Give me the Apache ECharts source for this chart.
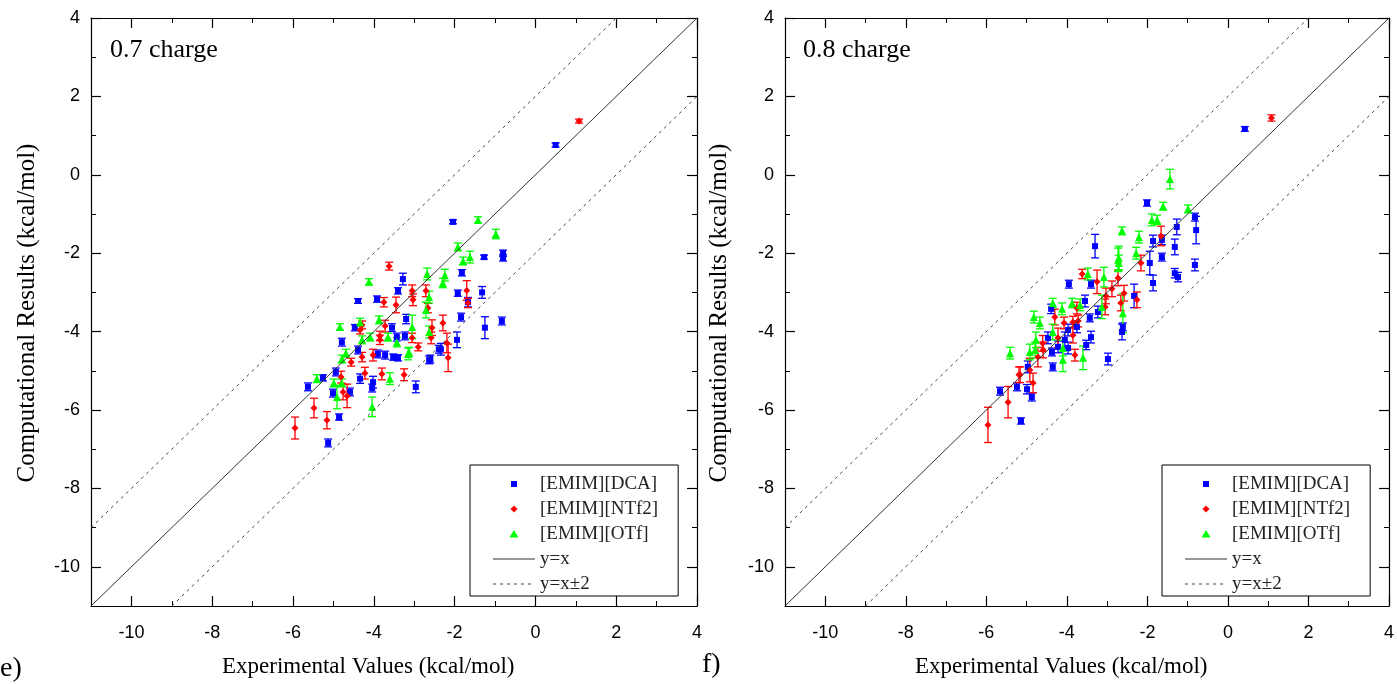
<!DOCTYPE html>
<html>
<head>
<meta charset="utf-8">
<script src="https://cdn.jsdelivr.net/npm/echarts@6/dist/echarts.min.js"></script>
<style>
  html, body { margin: 0; padding: 0; background: #fff; }
  #chart { width: 1397px; height: 684px; }
</style>
</head>
<body>
<div id="chart"></div>
<script>
// each point: [experimental, computed, error]
var dca07 = [
  [0.5, 0.76, 0.05], [-2.04, -1.2, 0.05], [-0.8, -2.0, 0.08], [-0.8, -2.12, 0.08],
  [-1.27, -2.1, 0.05], [-1.82, -2.5, 0.08], [-1.92, -3.02, 0.08], [-1.32, -3.0, 0.15],
  [-1.67, -3.25, 0.12], [-1.84, -3.63, 0.1], [-1.25, -3.9, 0.28], [-0.83, -3.73, 0.1],
  [-1.94, -4.21, 0.2], [-2.34, -4.45, 0.15], [-2.6, -4.7, 0.1], [-3.28, -2.66, 0.15],
  [-3.4, -2.96, 0.08], [-4.39, -3.22, 0.06], [-3.92, -3.17, 0.08], [-3.2, -3.68, 0.12],
  [-4.47, -3.9, 0.08], [-3.55, -3.9, 0.1], [-4.79, -4.27, 0.1], [-4.39, -4.47, 0.1],
  [-3.43, -4.14, 0.1], [-3.23, -4.11, 0.1], [-2.39, -4.45, 0.1], [-3.9, -4.57, 0.1],
  [-3.72, -4.6, 0.1], [-3.52, -4.65, 0.08], [-3.4, -4.67, 0.08], [-4.94, -5.03, 0.1],
  [-4.34, -5.2, 0.12], [-4.02, -5.29, 0.15], [-2.63, -4.72, 0.1], [-4.04, -5.44, 0.1],
  [-2.96, -5.41, 0.15], [-5.01, -5.57, 0.1], [-4.59, -5.54, 0.1], [-4.86, -6.18, 0.08],
  [-5.63, -5.41, 0.1], [-5.26, -5.18, 0.08], [-5.13, -6.84, 0.1]
];
var ntf07 = [
  [1.08, 1.37, 0.05], [-3.62, -2.33, 0.1], [-3.75, -3.25, 0.12], [-3.45, -3.32, 0.2],
  [-3.05, -2.96, 0.15], [-3.03, -3.19, 0.15], [-2.71, -2.96, 0.15], [-2.66, -3.4, 0.12],
  [-4.29, -3.83, 0.1], [-3.72, -3.86, 0.15], [-2.56, -3.9, 0.2], [-1.7, -2.95, 0.25],
  [-1.67, -3.27, 0.12], [-2.29, -3.78, 0.2], [-2.19, -4.29, 0.25], [-2.16, -4.67, 0.35],
  [-4.34, -3.96, 0.1], [-3.85, -4.11, 0.12], [-3.85, -4.21, 0.12], [-3.05, -4.16, 0.12],
  [-2.9, -4.39, 0.1], [-2.58, -4.16, 0.15], [-4.29, -4.65, 0.12], [-4.02, -4.6, 0.15],
  [-4.56, -4.78, 0.1], [-4.81, -5.16, 0.15], [-4.22, -5.06, 0.15], [-3.8, -5.08, 0.15],
  [-3.25, -5.1, 0.15], [-4.76, -5.54, 0.2], [-4.66, -5.64, 0.3], [-5.48, -5.95, 0.25],
  [-5.16, -6.26, 0.22], [-5.95, -6.46, 0.28]
];
var otf07 = [
  [-4.12, -2.73, 0.08], [-2.68, -2.53, 0.15], [-2.63, -3.12, 0.15], [-2.71, -3.45, 0.2],
  [-3.05, -3.88, 0.3], [-4.34, -3.76, 0.1], [-4.84, -3.88, 0.08], [-3.87, -3.7, 0.1],
  [-2.24, -2.56, 0.15], [-2.29, -2.76, 0.12], [-1.92, -1.84, 0.1], [-1.79, -2.2, 0.1],
  [-1.62, -2.1, 0.15], [-1.42, -1.15, 0.08], [-0.98, -1.51, 0.12], [-2.63, -4.01, 0.15],
  [-4.29, -4.21, 0.1], [-4.09, -4.14, 0.1], [-3.65, -4.14, 0.1], [-3.43, -4.27, 0.12],
  [-3.13, -4.52, 0.12], [-4.69, -4.55, 0.1], [-4.79, -4.7, 0.1], [-3.15, -4.57, 0.15],
  [-3.6, -5.2, 0.15], [-4.99, -5.31, 0.1], [-4.79, -5.31, 0.1], [-4.91, -5.67, 0.3],
  [-4.04, -5.92, 0.25], [-5.41, -5.2, 0.1]
];
var dca08 = [
  [0.42, 1.17, 0.06], [-2.01, -0.72, 0.08], [-0.82, -1.08, 0.1], [-1.27, -1.33, 0.2],
  [-0.79, -1.41, 0.35], [-1.86, -1.69, 0.15], [-1.64, -1.66, 0.12], [-1.32, -1.84, 0.2],
  [-1.64, -2.1, 0.1], [-1.94, -2.25, 0.3], [-0.82, -2.3, 0.15], [-1.32, -2.51, 0.12],
  [-1.24, -2.61, 0.12], [-1.86, -2.76, 0.2], [-2.33, -3.09, 0.3], [-2.61, -3.88, 0.1],
  [-3.3, -1.82, 0.3], [-3.95, -2.79, 0.1], [-3.4, -2.79, 0.1], [-3.55, -3.22, 0.15],
  [-4.39, -3.42, 0.12], [-3.23, -3.5, 0.15], [-3.43, -3.65, 0.1], [-3.75, -3.88, 0.15],
  [-2.63, -4.01, 0.2], [-2.98, -4.7, 0.15], [-3.97, -3.96, 0.15], [-4.47, -4.16, 0.15],
  [-4.05, -4.21, 0.2], [-3.4, -4.14, 0.15], [-3.52, -4.34, 0.12], [-4.22, -4.39, 0.15],
  [-3.97, -4.42, 0.15], [-4.35, -4.9, 0.1], [-4.97, -4.9, 0.15], [-4.37, -4.52, 0.1],
  [-5.66, -5.52, 0.1], [-5.24, -5.41, 0.1], [-4.99, -5.47, 0.12], [-4.87, -5.67, 0.1],
  [-5.14, -6.28, 0.08]
];
var ntf08 = [
  [1.08, 1.45, 0.08], [-1.66, -1.56, 0.25], [-2.16, -2.25, 0.2], [-2.73, -2.63, 0.2],
  [-2.88, -2.91, 0.2], [-2.58, -3.02, 0.2], [-2.26, -3.19, 0.2], [-2.66, -3.27, 0.2],
  [-3.62, -2.53, 0.12], [-3.25, -2.73, 0.3], [-3.03, -3.09, 0.2], [-3.75, -3.4, 0.15],
  [-3.05, -3.37, 0.2], [-4.3, -3.63, 0.2], [-4.07, -3.78, 0.15], [-3.85, -3.76, 0.15],
  [-3.72, -3.73, 0.15], [-4.22, -4.16, 0.25], [-3.85, -4.09, 0.2], [-4.59, -4.47, 0.2],
  [-3.8, -4.6, 0.15], [-4.72, -4.65, 0.25], [-5.16, -5.1, 0.2], [-5.19, -5.1, 0.2],
  [-4.84, -5.31, 0.25], [-4.92, -4.98, 0.3], [-5.46, -5.8, 0.4], [-5.96, -6.38, 0.45],
  [-4.6, -4.3, 0.2]
];
var otf08 = [
  [-1.44, -0.11, 0.25], [-1.61, -0.8, 0.1], [-0.99, -0.87, 0.1], [-1.89, -1.15, 0.15],
  [-1.76, -1.15, 0.12], [-2.63, -1.43, 0.1], [-2.21, -1.59, 0.15], [-2.28, -2.0, 0.15],
  [-2.71, -2.12, 0.3], [-2.71, -2.25, 0.2], [-2.61, -3.53, 0.5], [-3.48, -2.53, 0.15],
  [-3.08, -2.61, 0.25], [-2.73, -2.17, 0.3], [-3.87, -3.27, 0.12], [-3.67, -3.32, 0.15],
  [-4.35, -3.27, 0.12], [-4.12, -3.42, 0.15], [-3.13, -3.37, 0.3], [-4.82, -3.63, 0.15],
  [-4.67, -3.78, 0.15], [-4.35, -4.01, 0.2], [-4.77, -4.21, 0.2], [-4.79, -4.47, 0.2],
  [-4.1, -4.42, 0.2], [-3.6, -4.67, 0.3], [-4.1, -4.72, 0.3], [-5.41, -4.55, 0.15],
  [-4.92, -4.52, 0.2]
];

var majorTicks = [-10, -8, -6, -4, -2, 0, 2, 4];
var lineYX = [[-11, -11], [4, 4]];
var lineUp = [[-11, -9], [2, 4]];
var lineDown = [[-9, -11], [4, 2]];
var panelLabels = ['0.7 charge', '0.8 charge'];
var names = ['[EMIM][DCA]', '[EMIM][NTf2]', '[EMIM][OTf]', 'y=x', 'y=x\u00b12'];

var chart = echarts.init(document.getElementById('chart'), null, { renderer: 'canvas' });

var grids = [
  { left: 91, top: 18, width: 606, height: 588 },
  { left: 785, top: 18, width: 604, height: 588 }
];

// one major axis (long ticks on even values) and one minor axis (short ticks each unit) per side
function makeAxis(g, pos, major, labels) {
  var ax = {
    type: 'value', gridIndex: g, position: pos, min: -11, max: 4, interval: 1,
    splitLine: { show: false },
    axisLine: { show: major, onZero: false, lineStyle: { color: '#000', width: 1.2 } },
    axisTick: major
      ? { show: true, inside: true, length: 10, customValues: majorTicks, lineStyle: { color: '#000', width: 1.2 } }
      : { show: true, inside: true, length: 5, lineStyle: { color: '#000', width: 1 } },
    axisLabel: { show: false }
  };
  if (labels) {
    ax.axisLabel = {
      show: true, customValues: majorTicks, fontFamily: 'Liberation Sans', fontSize: 18, color: '#000',
      margin: (pos === 'bottom') ? 18 : 11
    };
  }
  return ax;
}

var xAxes = [], yAxes = [];
[0, 1].forEach(function (g) {
  xAxes.push(makeAxis(g, 'bottom', true, true));
  xAxes.push(makeAxis(g, 'top', true, false));
  xAxes.push(makeAxis(g, 'bottom', false, false));
  xAxes.push(makeAxis(g, 'top', false, false));
  yAxes.push(makeAxis(g, 'left', true, true));
  yAxes.push(makeAxis(g, 'right', true, false));
  yAxes.push(makeAxis(g, 'left', false, false));
  yAxes.push(makeAxis(g, 'right', false, false));
});

function errRender(color) {
  return function (params, api) {
    var x = api.value(0), y = api.value(1), e = api.value(2);
    var hi = api.coord([x, y + e]);
    var lo = api.coord([x, y - e]);
    var hw = 4;
    var st = { stroke: color, lineWidth: 1.3 };
    return {
      type: 'group',
      children: [
        { type: 'line', shape: { x1: hi[0], y1: hi[1], x2: lo[0], y2: lo[1] }, style: st },
        { type: 'line', shape: { x1: hi[0] - hw, y1: hi[1], x2: hi[0] + hw, y2: hi[1] }, style: st },
        { type: 'line', shape: { x1: lo[0] - hw, y1: lo[1], x2: lo[0] + hw, y2: lo[1] }, style: st }
      ]
    };
  };
}

var sets = [
  [dca07, ntf07, otf07],
  [dca08, ntf08, otf08]
];
var colors = ['#0000ff', '#ff0000', '#00ff00'];
var symbols = ['rect', 'diamond', 'triangle'];
var sizes = [6, 7, 8];

var series = [];
[0, 1].forEach(function (g) {
  var xi = g * 4, yi = g * 4;
  series.push({
    type: 'line', name: 'y=x', xAxisIndex: xi, yAxisIndex: yi, data: lineYX,
    symbol: 'none', silent: true, lineStyle: { color: '#333', width: 1 }, itemStyle: { color: '#333' }
  });
  [lineUp, lineDown].forEach(function (d) {
    series.push({
      type: 'line', name: 'y=x\u00b12', xAxisIndex: xi, yAxisIndex: yi, data: d,
      symbol: 'none', silent: true, lineStyle: { color: '#444', width: 1, type: [3, 4] }, itemStyle: { color: '#444' }
    });
  });
  sets[g].forEach(function (d, k) {
    series.push({
      type: 'custom', xAxisIndex: xi, yAxisIndex: yi, data: d, silent: true,
      encode: { x: 0, y: 1 }, renderItem: errRender(colors[k])
    });
    series.push({
      type: 'scatter', name: names[k], xAxisIndex: xi, yAxisIndex: yi, data: d,
      encode: { x: 0, y: 1 }, symbol: symbols[k], symbolSize: sizes[k],
      itemStyle: { color: colors[k], opacity: 1 }
    });
  });
});

// legend icons drawn in a 42x14 box (the leading moves fix the box size)
var box = 'path://M0 0 M42 14 ';
var legendIcons = [
  box + 'M18 4 L24 4 L24 10 L18 10 Z',
  box + 'M21 3.5 L24.5 7 L21 10.5 L17.5 7 Z',
  box + 'M21 3 L25.5 10.5 L16.5 10.5 Z',
  box + 'M0 6.5 L42 6.5 L42 7.5 L0 7.5 Z',
  box + 'M0 6.5 L3 6.5 L3 7.5 L0 7.5 Z M7 6.5 L10 6.5 L10 7.5 L7 7.5 Z M14 6.5 L17 6.5 L17 7.5 L14 7.5 Z ' +
        'M21 6.5 L24 6.5 L24 7.5 L21 7.5 Z M28 6.5 L31 6.5 L31 7.5 L28 7.5 Z M35 6.5 L38 6.5 L38 7.5 L35 7.5 Z'
];

function legendAt(left) {
  return {
    left: left, top: 465, orient: 'vertical', itemWidth: 42, itemHeight: 14, itemGap: 5,
    padding: [9, 20, 2, 23], borderColor: '#000', borderWidth: 1, backgroundColor: '#fff',
    selectedMode: false,
    textStyle: { fontFamily: 'Liberation Serif', fontSize: 19, color: '#222', lineHeight: 20 },
    data: names.map(function (n, i) { return { name: n, icon: legendIcons[i] }; })
  };
}

var serif = '"Liberation Serif", serif';
var graphics = [
  { type: 'text', left: 110, top: 37, style: { text: panelLabels[0], font: '26px ' + serif, fill: '#000' } },
  { type: 'text', left: 803, top: 37, style: { text: panelLabels[1], font: '26px ' + serif, fill: '#000' } },
  { type: 'text', left: 0, top: 655, style: { text: 'e)', font: '28px ' + serif, fill: '#000' } },
  { type: 'text', left: 702, top: 651, style: { text: 'f)', font: '28px ' + serif, fill: '#000' } },
  { type: 'text', left: 222, top: 655, style: { text: 'Experimental Values (kcal/mol)', font: '23px ' + serif, fill: '#000' } },
  { type: 'text', left: 915, top: 655, style: { text: 'Experimental Values (kcal/mol)', font: '23px ' + serif, fill: '#000' } },
  { type: 'text', x: 27, y: 313, rotation: Math.PI / 2,
    style: { text: 'Computational Results (kcal/mol)', font: '25px ' + serif, fill: '#000', align: 'center', verticalAlign: 'middle' } },
  { type: 'text', x: 719, y: 313, rotation: Math.PI / 2,
    style: { text: 'Computational Results (kcal/mol)', font: '25px ' + serif, fill: '#000', align: 'center', verticalAlign: 'middle' } }
];

chart.setOption({
  animation: false,
  backgroundColor: '#fff',
  grid: grids,
  xAxis: xAxes,
  yAxis: yAxes,
  legend: [legendAt(470), legendAt(1162)],
  graphic: graphics,
  series: series
});
</script>
</body>
</html>
